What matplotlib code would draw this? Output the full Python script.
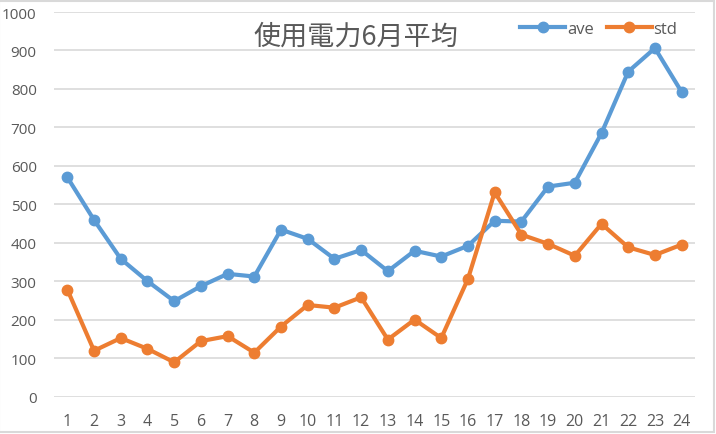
import matplotlib.pyplot as plt
from matplotlib.patches import Rectangle

plt.rcParams['font.family'] = ['Open Sans', 'Noto Sans CJK JP', 'DejaVu Sans']

hours = [str(h) for h in range(1, 25)]
ave = [570, 459, 358, 300, 248, 287, 319, 312, 434, 410, 358, 381,
       326, 379, 364, 392, 457, 455, 546, 556, 685, 845, 906, 792]
std = [278, 119, 152, 124, 89, 144, 157, 114, 182, 238, 231, 258,
       148, 200, 152, 306, 531, 421, 397, 366, 449, 388, 368, 395]

W, H = 716, 435
fig = plt.figure(figsize=(W / 100, H / 100), dpi=100)
ax = fig.add_axes([54 / W, 1 - 397.5 / H, (695 - 54) / W, (397.5 - 13) / H])

x = range(len(hours))
ax.plot(x, ave, color='#5B9BD5', lw=3, marker='o', ms=7.5, label='ave')
ax.plot(x, std, color='#ED7D31', lw=3, marker='o', ms=7.5, label='std')

ax.set_xlim(-0.5, len(hours) - 0.5)
ax.set_ylim(0, 1000)
ax.set_yticks(range(0, 1001, 100))
ax.set_xticks(list(x))
ax.set_xticklabels(hours)
ax.grid(axis='y', color='#D9D9D9', lw=1.2)
ax.set_axisbelow(True)
for s in ax.spines.values():
    s.set_visible(False)
ax.tick_params(length=0, labelsize=11.5, colors='#595959', pad=12)
ax.tick_params(axis='y', labelsize=11, pad=12.5)

fig.text(356 / W, 1 - 37 / H, '使用電力6月平均', ha='center', va='center',
         fontsize=19.5, color='#595959', family=['Noto Sans CJK JP', 'DejaVu Sans'])
ax.legend(loc='center right', bbox_to_anchor=(0.983, 1 - 17 / 384.5), ncol=2,
          frameon=False, fontsize=12, labelcolor='#595959', handlelength=2.7,
          handletextpad=0.1, columnspacing=0.8, borderaxespad=0)

fig.patches.append(Rectangle((-1 / W, 1 - 433 / H), 715 / W, 431 / H,
                             transform=fig.transFigure, fill=False,
                             edgecolor='#D9D9D9', lw=1.5))

fig.savefig('out.png', dpi=100)
